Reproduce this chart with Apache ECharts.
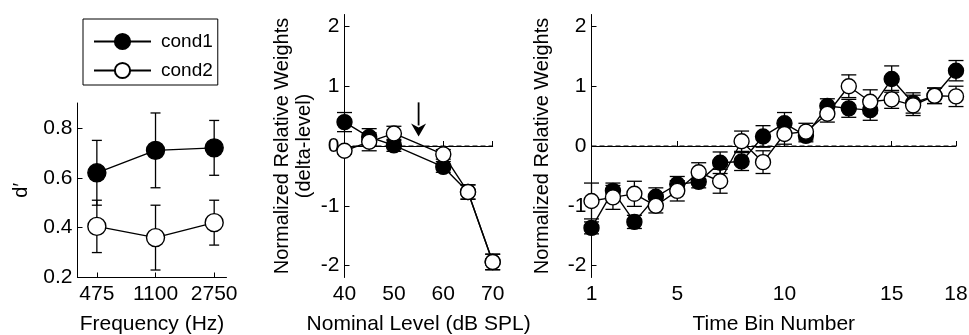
<!DOCTYPE html>
<html>
<head>
<meta charset="utf-8">
<script src="https://cdn.jsdelivr.net/npm/echarts@6/dist/echarts.min.js"></script>
<style>
  html, body { margin: 0; padding: 0; background: #fff; }
  #chart { width: 969px; height: 335px; }
</style>
</head>
<body>
<div id="chart"></div>
<script>
// ---- panel 1: d' by frequency ----
const freqLabels = ['475', '1100', '2750'];
const freqCond1 = [0.62, 0.71, 0.72];
const freqCond1Err = [0.13, 0.15, 0.11];
const freqCond2 = [0.405, 0.36, 0.42];
const freqCond2Err = [0.105, 0.13, 0.09];
const dTicks = [0.2, 0.4, 0.6, 0.8];

// ---- panel 2: weights by nominal level ----
const levels = [40, 45, 50, 60, 65, 70];
const levelCond1 = [0.40, 0.15, 0.01, -0.35, -0.77, -1.94];
const levelCond1Err = [0.16, 0.14, 0.10, 0.09, 0.12, 0.13];
const levelCond2 = [-0.08, 0.07, 0.21, -0.14, -0.77, -1.94];
const levelCond2Err = [0.05, 0.15, 0.12, 0.08, 0.12, 0.13];
const levelTicks = [40, 50, 60, 70];
const arrowAt = [55, 0.73, 0.16]; // x, top, tip

// ---- panel 3: weights by time bin ----
const bins = [1, 2, 3, 4, 5, 6, 7, 8, 9, 10, 11, 12, 13, 14, 15, 16, 17, 18];
const binCond1 = [-1.37, -0.75, -1.27, -0.85, -0.64, -0.60, -0.28, -0.26, 0.16, 0.38, 0.17, 0.67, 0.63, 0.60, 1.12, 0.72, 0.84, 1.26];
const binCond1Err = [0.10, 0.13, 0.11, 0.15, 0.13, 0.10, 0.18, 0.15, 0.18, 0.18, 0.10, 0.12, 0.15, 0.17, 0.22, 0.17, 0.13, 0.17];
const binCond2 = [-0.92, -0.86, -0.80, -1.00, -0.75, -0.44, -0.59, 0.08, -0.27, 0.20, 0.24, 0.54, 1.00, 0.74, 0.78, 0.68, 0.84, 0.83];
const binCond2Err = [0.30, 0.20, 0.21, 0.12, 0.17, 0.16, 0.20, 0.17, 0.19, 0.17, 0.14, 0.14, 0.19, 0.20, 0.15, 0.17, 0.13, 0.17];
const binTicks = [1, 5, 10, 15, 18];
const weightTicks = [-2, -1, 0, 1, 2];

const FONT = 'Liberation Sans, Arial, sans-serif';
const FS = 21;

const chart = echarts.init(document.getElementById('chart'));

function pts(xs, ys) { return xs.map((x, i) => [x, ys[i]]); }
function bars(xs, ys, es) { return xs.map((x, i) => [x, ys[i] - es[i], ys[i] + es[i]]); }

function errorBars(capW) {
    return function (params, api) {
        const x = api.value(0);
        const lo = api.coord([x, api.value(1)]);
        const hi = api.coord([x, api.value(2)]);
        const st = { stroke: '#000', lineWidth: 1.3, fill: null };
        return {
            type: 'group',
            children: [
                { type: 'line', shape: { x1: hi[0], y1: hi[1], x2: lo[0], y2: lo[1] }, style: st },
                { type: 'line', shape: { x1: hi[0] - capW / 2, y1: hi[1], x2: hi[0] + capW / 2, y2: hi[1] }, style: st },
                { type: 'line', shape: { x1: lo[0] - capW / 2, y1: lo[1], x2: lo[0] + capW / 2, y2: lo[1] }, style: st }
            ]
        };
    };
}

function xAxisCfg(idx, min, max, ticks, name, fmt) {
    return {
        type: 'value', gridIndex: idx, min: min, max: max,
        name: name, nameLocation: 'middle', nameGap: 36,
        nameTextStyle: { color: '#000', fontSize: FS, fontFamily: FONT },
        axisLine: { lineStyle: { color: '#000', width: 1 } },
        axisTick: { inside: true, length: 5, customValues: ticks, lineStyle: { color: '#000' } },
        axisLabel: { customValues: ticks, margin: 6, color: '#000', fontSize: FS, fontFamily: FONT, formatter: fmt },
        splitLine: { show: false }
    };
}
function yAxisCfg(idx, min, max, ticks, name, gap) {
    return {
        type: 'value', gridIndex: idx, min: min, max: max,
        name: name, nameLocation: 'middle', nameGap: gap, nameRotate: 90,
        nameTextStyle: { color: '#000', fontSize: 20, fontFamily: FONT, lineHeight: 22 },
        axisLine: { lineStyle: { color: '#000', width: 1 } },
        axisTick: { inside: true, length: 5, customValues: ticks, lineStyle: { color: '#000' } },
        axisLabel: { customValues: ticks, margin: 5, color: '#000', fontSize: FS, fontFamily: FONT },
        splitLine: { show: false }
    };
}

function lineSeries(name, xi, data, filled, size, z) {
    return {
        name: name, type: 'line', xAxisIndex: xi, yAxisIndex: xi, data: data,
        symbol: 'circle', symbolSize: size, z: z, silent: true,
        lineStyle: { color: '#000', width: 1.4 },
        itemStyle: { color: filled ? '#000' : '#fff', borderColor: '#000', borderWidth: 1.4 }
    };
}
function errSeries(xi, data, capW, z) {
    return {
        type: 'custom', xAxisIndex: xi, yAxisIndex: xi, data: data, z: z, silent: true,
        encode: { x: 0, y: [1, 2] }, renderItem: errorBars(capW)
    };
}
// dashed reference line at y = 0 between two x values
function zeroLine(xi, x0, x1) {
    return {
        type: 'custom', xAxisIndex: xi, yAxisIndex: xi, data: [[x0, x1, 0]], z: 1, silent: true,
        encode: { x: [0, 1], y: 2 },
        renderItem: function (params, api) {
            const a = api.coord([api.value(0), api.value(2)]);
            const b = api.coord([api.value(1), api.value(2)]);
            return {
                type: 'line',
                shape: { x1: a[0], y1: a[1], x2: b[0], y2: b[1] },
                style: { stroke: '#000', lineWidth: 1, lineDash: [5, 3], fill: null }
            };
        }
    };
}

const option = {
    animation: false,
    backgroundColor: '#fff',
    textStyle: { fontFamily: FONT },
    legend: {
        left: 83, top: 19, orient: 'vertical', selectedMode: false,
        data: ['cond1', 'cond2'],
        borderColor: '#000', borderWidth: 1,
        padding: [13, 5, 5, 10],
        itemWidth: 57, itemHeight: 19, itemGap: 10,
        textStyle: { color: '#000', fontSize: 19, fontFamily: FONT, padding: [0, 0, 0, 5] }
    },
    grid: [
        { left: 77.5, top: 103, width: 149, height: 174.5, outerBoundsMode: 'none' },
        { left: 344.5, top: 14.5, width: 148.2, height: 263, outerBoundsMode: 'none' },
        { left: 591.5, top: 14.5, width: 364.5, height: 263, outerBoundsMode: 'none' }
    ],
    xAxis: [
        xAxisCfg(0, 0.67, 3.21, [1, 2, 3], 'Frequency (Hz)', v => freqLabels[Math.round(v) - 1]),
        xAxisCfg(1, 40, 70, levelTicks, 'Nominal Level (dB SPL)'),
        xAxisCfg(2, 1, 18, binTicks, 'Time Bin Number')
    ],
    yAxis: [
        yAxisCfg(0, 0.2, 0.9, dTicks, 'd\u2032', 45),
        yAxisCfg(1, -2.2, 2.2, weightTicks, 'Normalized Relative Weights\n(delta-level)', 29),
        yAxisCfg(2, -2.2, 2.2, weightTicks, 'Normalized Relative Weights', 38)
    ],
    series: [
        // panel 1
        errSeries(0, bars([1, 2, 3], freqCond1, freqCond1Err), 10, 2),
        lineSeries('cond1', 0, pts([1, 2, 3], freqCond1), true, 18, 3),
        errSeries(0, bars([1, 2, 3], freqCond2, freqCond2Err), 10, 4),
        lineSeries('cond2', 0, pts([1, 2, 3], freqCond2), false, 18, 5),
        // panel 2
        zeroLine(1, levels[0], levels[levels.length - 1]),
        errSeries(1, bars(levels, levelCond1, levelCond1Err), 15, 2),
        lineSeries('cond1', 1, pts(levels, levelCond1), true, 15, 3),
        errSeries(1, bars(levels, levelCond2, levelCond2Err), 15, 4),
        lineSeries('cond2', 1, pts(levels, levelCond2), false, 15, 5),
        {
            type: 'custom', xAxisIndex: 1, yAxisIndex: 1, data: [arrowAt], z: 6, silent: true,
            encode: { x: 0, y: [1, 2] },
            renderItem: function (params, api) {
                const top = api.coord([api.value(0), api.value(1)]);
                const tip = api.coord([api.value(0), api.value(2)]);
                const headH = 13, headW = 15;
                return {
                    type: 'group',
                    children: [
                        { type: 'line', shape: { x1: top[0], y1: top[1], x2: tip[0], y2: tip[1] - headH + 2 },
                          style: { stroke: '#000', lineWidth: 1.8 } },
                        { type: 'polygon',
                          shape: { points: [[tip[0], tip[1]], [tip[0] - headW / 2, tip[1] - headH], [tip[0], tip[1] - headH + 4], [tip[0] + headW / 2, tip[1] - headH]] },
                          style: { fill: '#000' } }
                    ]
                };
            }
        },
        // panel 3
        zeroLine(2, bins[0], bins[bins.length - 1]),
        errSeries(2, bars(bins, binCond1, binCond1Err), 15, 2),
        lineSeries('cond1', 2, pts(bins, binCond1), true, 15, 3),
        errSeries(2, bars(bins, binCond2, binCond2Err), 15, 4),
        lineSeries('cond2', 2, pts(bins, binCond2), false, 15, 5)
    ]
};

chart.setOption(option);
</script>
</body>
</html>
